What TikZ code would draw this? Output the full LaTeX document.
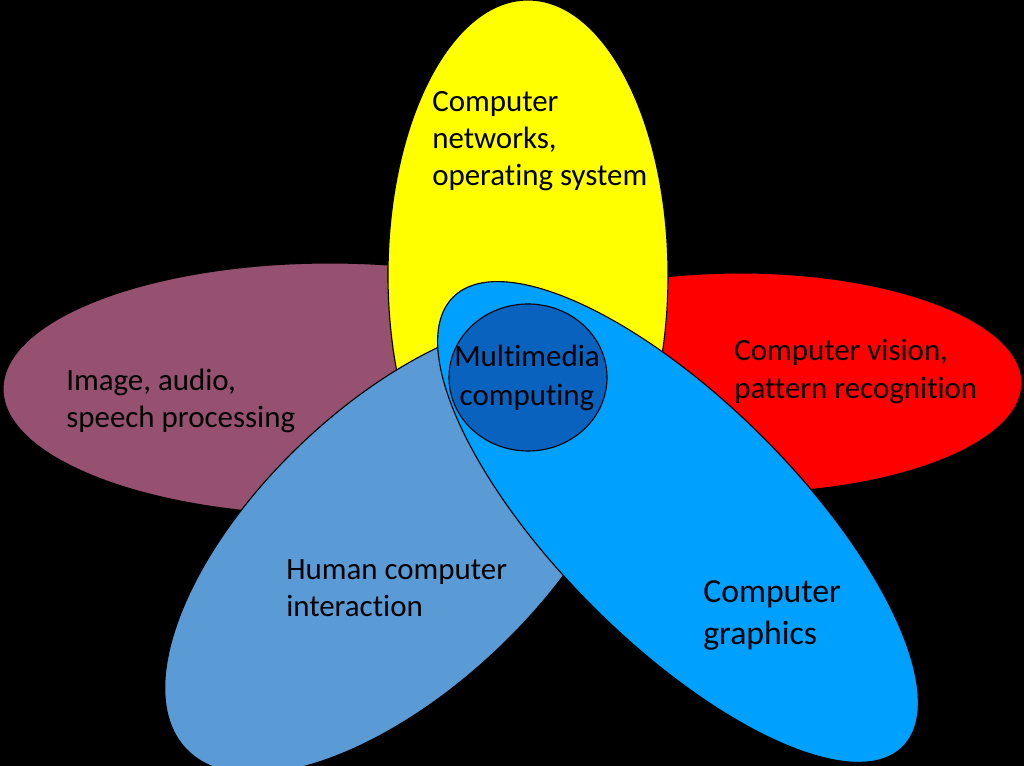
\documentclass[tikz,border=0pt]{standalone}
\usepackage{fontspec}
\setmainfont{Carlito}[Ligatures=NoCommon]
\usepackage{tikz}
\usetikzlibrary{positioning}
\usepackage{xcolor}
\definecolor{petalmaroon}{RGB}{150,80,112}
\definecolor{petalyellow}{RGB}{255,255,0}
\definecolor{petalred}{RGB}{255,0,0}
\definecolor{petalsteel}{RGB}{91,155,213}
\definecolor{petalblue}{RGB}{0,160,255}
\definecolor{coreblue}{RGB}{8,98,190}
\tikzset{
    petal/.style={draw=black, line width=0.8pt},
    petaltext/.style={font=\fontsize{22}{26.5}\selectfont, align=left, anchor=west, inner sep=0pt, text=black}
}

\begin{document}
\begin{tikzpicture}
        \useasboundingbox (0,0) rectangle (25.6,19.15);
        % Fundo preto
        \fill[black] (0,0) rectangle (25.6,19.15);
        % Petala esquerda (imagem, audio)
        \draw[petal, fill=petalmaroon] (8.25,9.425) ellipse[x radius=8.175cm, y radius=3.15cm];
        % Petala direita (visao)
        \draw[petal, fill=petalred] (18.5,9.575) ellipse[x radius=7.05cm, y radius=2.75cm];
        % Petala superior (redes)
        \draw[petal, fill=petalyellow] (13.2,12.275) ellipse[x radius=3.5cm, y radius=6.875cm];
        % Petala inferior esquerda (HCI)
        \draw[petal, fill=petalsteel, rotate around={43.5:(10,5.5)}] (10,5.5) ellipse[x radius=7.375cm, y radius=3.55cm];
        % Petala inferior direita (graficos)
        \draw[petal, fill=petalblue, rotate around={-45:(16.95,6.1)}] (16.95,6.1) ellipse[x radius=7.95cm, y radius=3cm];
        % Nucleo
        \draw[petal, fill=coreblue] (13.2,9.7125) ellipse[x radius=1.975cm, y radius=1.8375cm];
        % Textos das petalas
        \node[petaltext] (net) at (10.8,15.62) {Computer\\networks,\\operating system};
        \node[petaltext] (img) at (1.65,9.13) {Image, audio,\\speech processing};
        \node[petaltext] (vis) at (18.35,9.86) {Computer vision,\\pattern recognition};
        \node[petaltext] (hci) at (7.15,4.45) {Human computer\\interaction};
        \node[petaltext, font=\fontsize{24}{29.5}\selectfont] (gfx) at (17.575,3.76) {Computer\\graphics};
        % Texto central
        \node[petaltext, font=\fontsize{22}{28}\selectfont, align=center, anchor=center] (mm) at (13.175,9.7) {Multimedia\\computing};
    \end{tikzpicture}
\end{document}
